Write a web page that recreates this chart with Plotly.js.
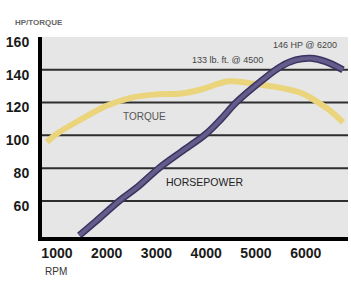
<!DOCTYPE html>
<html><head><meta charset="utf-8">
<script src="https://cdn.plot.ly/plotly-3.0.1.min.js"></script>
<style>body{margin:0;background:#fff}</style>
</head><body><div id="chart" style="width:351px;height:286px"></div>
<script>
const torqueRpm = [800, 1000, 1500, 2000, 2500, 3000, 3500, 3900, 4450, 4950, 5500, 5900, 6150, 6450, 6750];
const torqueVal = [96, 101, 110, 118, 123, 125, 125.5, 128, 133, 131.5, 129, 126, 122, 116, 108];
const hpRpm = [1450, 1800, 2250, 2600, 3050, 3500, 4000, 4300, 4600, 5100, 5500, 5800, 6100, 6400, 6750];
const hpVal = [39, 48, 60, 68, 80, 90, 101, 110, 120, 133, 142, 146, 147, 145, 140];
const gridVals = [60, 80, 100, 120, 140];
const yTicks = [60, 80, 100, 120, 140, 160];
const xTicks = [1000, 2000, 3000, 4000, 5000, 6000];

const F = '"Liberation Sans Narrow", "Liberation Sans", Arial, sans-serif';

const traces = [
  {x: torqueRpm, y: torqueVal, mode: 'lines', line: {color: '#ead47c', width: 6, shape: 'spline'}, hoverinfo: 'skip'},
  {x: hpRpm, y: hpVal, mode: 'lines', line: {color: '#3a3460', width: 7, shape: 'spline'}, hoverinfo: 'skip'},
  {x: hpRpm, y: hpVal, mode: 'lines', line: {color: '#645d8c', width: 4, shape: 'spline'}, hoverinfo: 'skip'}
];

const shapes = gridVals.map(v => ({type: 'line', xref: 'paper', x0: 0, x1: 1, yref: 'y', y0: v, y1: v,
  line: {color: '#2e2e2e', width: 2}, layer: 'below'}));

const layout = {
  width: 351, height: 286,
  margin: {l: 42, r: 3, t: 37, b: 49},
  paper_bgcolor: '#ffffff', plot_bgcolor: '#e6e6e6',
  showlegend: false,
  font: {family: F, color: '#1a1a1a'},
  xaxis: {range: [700, 6850], tickvals: xTicks, ticktext: xTicks.map(String), showgrid: false, zeroline: false,
    showline: true, linecolor: '#000', linewidth: 4, ticks: '',
    tickfont: {family: F, size: 14, color: '#1a1a1a', weight: 'bold'}},
  yaxis: {range: [38, 160], tickvals: yTicks, ticktext: yTicks.map(String), showgrid: false, zeroline: false,
    showline: true, linecolor: '#000', linewidth: 4, ticks: 'outside', ticklen: 6, tickcolor: 'rgba(0,0,0,0)',
    ticklabelshift: 5,
    tickfont: {family: F, size: 14, color: '#1a1a1a', weight: 'bold'}},
  shapes: shapes,
  annotations: [
    {text: 'HP/TORQUE', xref: 'paper', yref: 'paper', x: -0.095, xanchor: 'left', y: 1.075, yanchor: 'middle', showarrow: false, font: {family: F, size: 8, color: '#666', weight: 'bold'}},
    {text: 'RPM', xref: 'paper', yref: 'paper', x: 0.003, xanchor: 'left', y: -0.17, yanchor: 'middle', showarrow: false, font: {family: F, size: 10, color: '#333'}},
    {text: '133 lb. ft. @ 4500', x: 4420, y: 146, showarrow: false, font: {family: F, size: 9, color: '#444'}},
    {text: '146 HP @ 6200', x: 5990, y: 155, showarrow: false, font: {family: F, size: 9, color: '#444'}},
    {text: 'TORQUE', x: 2750, y: 111.5, showarrow: false, font: {family: F, size: 10, color: '#555'}},
    {text: 'HORSEPOWER', x: 3975, y: 71.5, showarrow: false, font: {family: F, size: 10.5, color: '#222'}}
  ]
};
Plotly.newPlot('chart', traces, layout, {displayModeBar: false, staticPlot: true});
</script></body></html>
